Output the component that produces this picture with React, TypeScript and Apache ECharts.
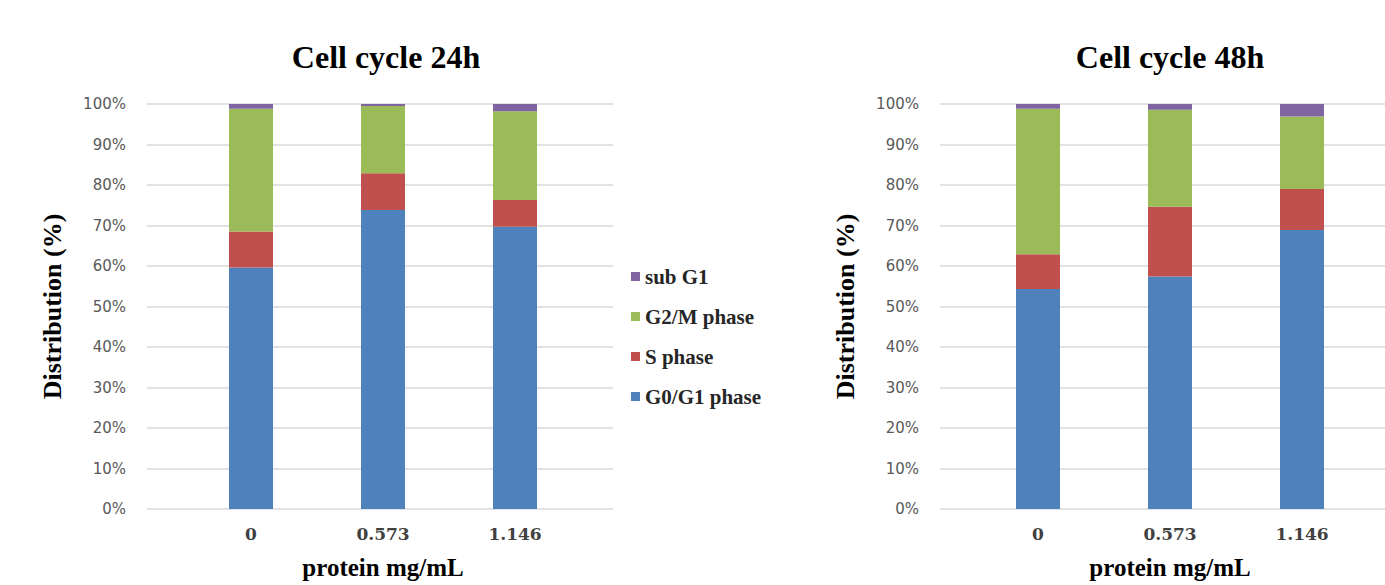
import React, { useEffect, useRef } from "react";
import * as echarts from "echarts";

// Protein concentrations (mg/mL) on the category axis
const doses = ["0", "0.573", "1.146"];
const yTicks = [0, 10, 20, 30, 40, 50, 60, 70, 80, 90, 100];

// Phase distribution (%) after 24 h
const g0g1_24 = [59.6, 73.8, 69.7];
const s_24 = [8.9, 9.1, 6.6];
const g2m_24 = [30.3, 16.6, 21.9];
const subG1_24 = [1.2, 0.5, 1.8];

// Phase distribution (%) after 48 h
const g0g1_48 = [54.3, 57.4, 68.9];
const s_48 = [8.6, 17.2, 10.1];
const g2m_48 = [35.9, 24.0, 17.9];
const subG1_48 = [1.2, 1.4, 3.1];

const phaseNames = ["G0/G1 phase", "S phase", "G2/M phase", "sub G1"];
const phaseColors = ["#4f81bd", "#c0504d", "#9bbb59", "#8064a2"];

const SERIF = "'Liberation Serif', 'Times New Roman', serif";

function stackSeries(values: number[][], stack: string, axisIndex: number) {
  return values.map((data, i) => ({
    name: phaseNames[i],
    type: "bar",
    stack,
    xAxisIndex: axisIndex,
    yAxisIndex: axisIndex,
    barWidth: 44,
    itemStyle: { color: phaseColors[i] },
    data,
  }));
}

function backgroundY(gridIndex: number) {
  return {
    type: "value",
    gridIndex,
    min: yTicks[0],
    max: yTicks[yTicks.length - 1],
    interval: 10,
    name: "Distribution (%)",
    nameLocation: "middle",
    nameRotate: 90,
    nameGap: 82,
    nameTextStyle: {
      fontFamily: SERIF,
      fontWeight: "bold",
      fontSize: 26,
      color: "#000000",
    },
    axisLine: { show: false },
    axisTick: { show: false },
    axisLabel: {
      formatter: "{value}%",
      fontFamily: "'DejaVu Sans', sans-serif",
      fontSize: 15,
      color: "#595959",
      margin: 21,
    },
    splitLine: { lineStyle: { color: "#d9d9d9", width: 1.5 } },
  };
}

function barY(gridIndex: number) {
  return {
    type: "value",
    gridIndex,
    min: 0,
    max: 100,
    show: false,
    splitLine: { show: false },
  };
}

function categoryX(gridIndex: number) {
  return {
    type: "category",
    gridIndex,
    data: doses,
    axisLine: { show: false },
    axisTick: { show: false },
    axisLabel: {
      fontFamily: "'DejaVu Serif', serif",
      fontWeight: "bold",
      fontSize: 17,
      color: "#404040",
      margin: 16,
    },
    name: "protein mg/mL",
    nameLocation: "middle",
    nameGap: 46,
    nameTextStyle: {
      fontFamily: SERIF,
      fontWeight: "bold",
      fontSize: 25,
      color: "#000000",
    },
  };
}

const gridBox = { top: 104, height: 405, outerBoundsMode: "none" };

export default function App() {
  const ref = useRef<HTMLDivElement>(null);

  useEffect(() => {
    if (!ref.current) return;
    const chart = echarts.init(ref.current, null, { renderer: "svg" });
    chart.setOption({
      animation: false,
      backgroundColor: "#ffffff",
      title: [
        {
          text: "Cell cycle 24h",
          left: 381,
          top: 36,
          textAlign: "center",
          textStyle: { fontFamily: SERIF, fontWeight: "bold", fontSize: 32, color: "#000000" },
        },
        {
          text: "Cell cycle 48h",
          left: 1165,
          top: 36,
          textAlign: "center",
          textStyle: { fontFamily: SERIF, fontWeight: "bold", fontSize: 32, color: "#000000" },
        },
      ],
      legend: {
        orient: "vertical",
        left: 626,
        top: 261,
        itemGap: 19,
        itemWidth: 9,
        itemHeight: 9,
        icon: "rect",
        data: ["sub G1", "G2/M phase", "S phase", "G0/G1 phase"],
        textStyle: { fontFamily: SERIF, fontWeight: "bold", fontSize: 21, color: "#262626" },
      },
      grid: [
        // gridline frames
        { left: 147, width: 466, ...gridBox },
        // bar areas
        { left: 185, width: 396, ...gridBox },
        { left: 940, width: 445, ...gridBox },
        { left: 972, width: 396, ...gridBox },
      ],
      xAxis: [
        { type: "value", gridIndex: 0, show: false },
        categoryX(1),
        { type: "value", gridIndex: 2, show: false },
        categoryX(3),
      ],
      yAxis: [backgroundY(0), barY(1), backgroundY(2), barY(3)],
      series: [
        ...stackSeries([g0g1_24, s_24, g2m_24, subG1_24], "h24", 1),
        ...stackSeries([g0g1_48, s_48, g2m_48, subG1_48], "h48", 3),
      ],
    });
    return () => chart.dispose();
  }, []);

  return (
    <div
      ref={ref}
      style={{ position: "fixed", left: 0, top: 0, width: 1385, height: 585, background: "#ffffff" }}
    />
  );
}
